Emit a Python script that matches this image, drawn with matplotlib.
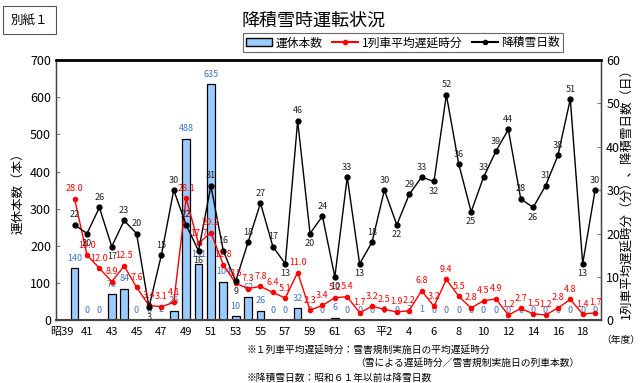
import numpy as np
import matplotlib.pyplot as plt
from matplotlib.patches import Patch
from matplotlib.lines import Line2D

plt.rcParams['font.family'] = ['Noto Sans CJK JP', 'DejaVu Sans']

# 年度 (昭39 ~ 平19)
years = ['昭39', '40', '41', '42', '43', '44', '45', '46', '47', '48', '49', '50',
         '51', '52', '53', '54', '55', '56', '57', '58', '59', '60', '61', '62', '63',
         '平1', '平2', '3', '4', '5', '6', '7', '8', '9', '10', '11', '12', '13', '14',
         '15', '16', '17', '18', '19']
tick_labels = ['昭39', '41', '43', '45', '47', '49', '51', '53', '55', '57', '59', '61',
               '63', '平2', '4', '6', '8', '10', '12', '14', '16', '18']

# 運休本数 (昭39 はデータなし)
suspended = [np.nan, 140, 0, 0, 70, 84, 0, 0, 2, 25, 488, 151, 635, 104, 10, 62, 26, 0, 0, 32,
             0, 0, 6, 0, 0, 0, 0, 0, 3, 1, 0, 0, 0, 0, 0, 0, 0, 0, 0, 0, 0, 0, 0, 0]
# 1列車平均遅延時分
delay = [np.nan, 28.0, 15.0, 12.0, 8.9, 12.5, 7.6, 3.4, 3.1, 4.1, 28.1, 17.7, 20.2, 12.8,
         8.5, 7.3, 7.8, 6.4, 5.1, 11.0, 2.3, 3.4, 5.2, 5.4, 1.7, 3.2, 2.5, 1.9, 2.2, 6.8,
         3.2, 9.4, 5.5, 2.8, 4.5, 4.9, 1.2, 2.7, 1.5, 1.2, 2.8, 4.8, 1.4, 1.7]
# 降積雪日数
snow_days = [np.nan, 22, 20, 26, 17, 23, 20, 3, 15, 30, 22, 16, 31, 16, 9, 18, 27, 17, 13,
             46, 20, 24, 10, 33, 13, 18, 30, 22, 29, 33, 32, 52, 36, 25, 33, 39, 44, 28, 26,
             31, 38, 51, 13, 30]

blue_txt = '#3f74c8'
x = np.arange(len(years))

fig = plt.figure(figsize=(6.4, 3.83), dpi=100)
ax = fig.add_axes([0.0875, 0.164, 0.852, 0.679])
ax2 = ax.twinx()

ax.bar(x, suspended, width=0.62, color='#99ccff', edgecolor='black', linewidth=0.9, zorder=2)
ax2.plot(x, delay, color='red', lw=1.0, marker='o', ms=3, zorder=3)
ax2.plot(x, snow_days, color='black', lw=1.0, marker='o', ms=3.5, zorder=4)

ax.set_xlim(-0.5, len(years) - 0.5)
ax.set_ylim(0, 700)
ax2.set_ylim(0, 60)
ax.set_yticks(range(0, 701, 100))
ax2.set_yticks(range(0, 61, 10))
tick_pos = [years.index(t) for t in tick_labels]
ax.set_xticks(tick_pos)
ax.set_xticklabels(tick_labels, fontsize=8)
ax.tick_params(axis='x', length=0, pad=5)
ax.tick_params(axis='y', direction='in', length=3, labelsize=9, color='gray')
ax2.tick_params(axis='y', direction='in', length=3, labelsize=9, color='gray')

for sp in ['left', 'right', 'bottom']:
    ax2.spines[sp].set_color('#444444')
    ax2.spines[sp].set_linewidth(1.0)
ax2.spines['top'].set_linewidth(2.0)
ax2.spines['bottom'].set_linewidth(1.5)

ax.set_ylabel('運休本数（本）', fontsize=9, labelpad=4)
ax2.set_ylabel('1列車平均遅延時分（分）、降積雪日数（日）', fontsize=9, rotation=90, labelpad=0)

# data labels
for i in range(1, len(years)):
    ax.annotate(f'{suspended[i]:g}', (x[i], suspended[i]), xytext=(0, 4),
                textcoords='offset points', ha='center', va='bottom',
                fontsize=6.5, color=blue_txt, zorder=5)
    ax2.annotate(f'{delay[i]:.1f}', (x[i], delay[i]), xytext=(0, 4),
                 textcoords='offset points', ha='center', va='bottom',
                 fontsize=6.5, color='red', zorder=5)
    prev = snow_days[i - 1] if i > 1 else snow_days[i]
    nxt = snow_days[i + 1] if i < len(years) - 1 else snow_days[i]
    if snow_days[i] <= prev and snow_days[i] <= nxt:
        ax2.annotate(f'{snow_days[i]}', (x[i], snow_days[i]), xytext=(0, -4),
                     textcoords='offset points', ha='center', va='top',
                     fontsize=6.5, color='#222222', zorder=5)
    else:
        ax2.annotate(f'{snow_days[i]}', (x[i], snow_days[i]), xytext=(0, 4),
                     textcoords='offset points', ha='center', va='bottom',
                     fontsize=6.5, color='#222222', zorder=5)

handles = [Patch(facecolor='#99ccff', edgecolor='black', label='運休本数'),
           Line2D([], [], color='red', marker='o', ms=3, label='1列車平均遅延時分'),
           Line2D([], [], color='black', marker='o', ms=3, label='降積雪日数')]
leg = fig.legend(handles=handles, loc='center', bbox_to_anchor=(0.63, 0.888), ncol=3,
                 fontsize=8.5, frameon=True, fancybox=False, edgecolor='#444444',
                 handlelength=2.2, handletextpad=0.3, columnspacing=0.8,
                 borderpad=0.25, borderaxespad=0)
leg.get_frame().set_linewidth(0.8)

fig.text(0.49, 0.945, '降積雪時運転状況', ha='center', va='center', fontsize=13)
fig.text(0.046, 0.947, '別紙１', ha='center', va='center', fontsize=9,
         bbox=dict(boxstyle='square,pad=0.6', facecolor='white', edgecolor='#555555', lw=0.8))
fig.text(0.97, 0.112, '（年度）', ha='center', va='center', fontsize=7)
fig.text(0.385, 0.088, '※１列車平均遅延時分：雪害規制実施日の平均遅延時分', fontsize=7, va='center')
fig.text(0.555, 0.052, '（雪による遅延時分／雪害規制実施日の列車本数）', fontsize=7, va='center')
fig.text(0.385, 0.014, '※降積雪日数：昭和６１年以前は降雪日数', fontsize=7, va='center')

fig.savefig('out.png', dpi=100)
